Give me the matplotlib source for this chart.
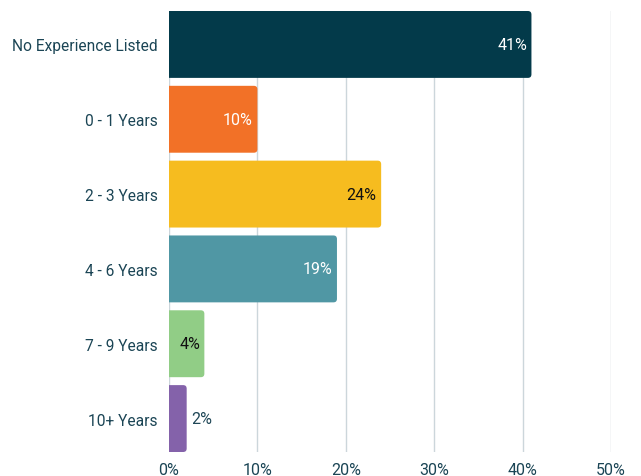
import matplotlib
matplotlib.use("Agg")
import matplotlib.pyplot as plt
from matplotlib.patches import FancyBboxPatch
from matplotlib.ticker import FuncFormatter

categories = ["No Experience Listed", "0 - 1 Years", "2 - 3 Years", "4 - 6 Years", "7 - 9 Years", "10+ Years"]
values = [41, 10, 24, 19, 4, 2]
colors = ["#033A4A", "#F27127", "#F6BC1F", "#5097A4", "#91CD86", "#8462AA"]
label_colors = ["white", "white", "#111111", "white", "#111111", "#1E4656"]
xticks = [0, 10, 20, 30, 40, 50]

plt.rcParams['font.family'] = ['Roboto', 'DejaVu Sans']
text_color = "#1B4555"

fig = plt.figure(figsize=(6.41, 4.77), dpi=100)
ax = fig.add_axes([169/641, (477-453)/477, (611-169)/641, (453-12)/477])

n = len(categories)
bh = 0.894
ax.set_xlim(0, 50)
ax.set_ylim(n - 1 + bh/2, -bh/2)

for i, (v, c) in enumerate(zip(values, colors)):
    p = FancyBboxPatch((-1, i - bh/2), v + 1, bh,
                       boxstyle="round,pad=0,rounding_size=0.4",
                       mutation_aspect=0.118, facecolor=c, edgecolor="none",
                       zorder=3, clip_on=True)
    ax.add_patch(p)
    if v >= 4:
        ax.text(v - 0.5, i, f"{v}%", ha="right", va="center", color=label_colors[i],
                fontsize=11.5, zorder=4)
    else:
        ax.text(v + 0.5, i, f"{v}%", ha="left", va="center", color=label_colors[i],
                fontsize=11.5, zorder=4)

ax.set_yticks(range(n))
ax.set_yticklabels(categories, fontsize=11.2, color=text_color)
ax.set_xticks(xticks)
ax.xaxis.set_major_formatter(FuncFormatter(lambda x, p: f"{int(x)}%"))
ax.tick_params(axis="x", labelsize=11.5, labelcolor=text_color, length=0, pad=7)
ax.tick_params(axis="y", length=0, pad=8)
ax.grid(axis="x", color="#CCD6DB", linewidth=1, zorder=0)
ax.set_axisbelow(True)
for s in ax.spines.values():
    s.set_visible(False)

fig.savefig("out.png", dpi=100)
